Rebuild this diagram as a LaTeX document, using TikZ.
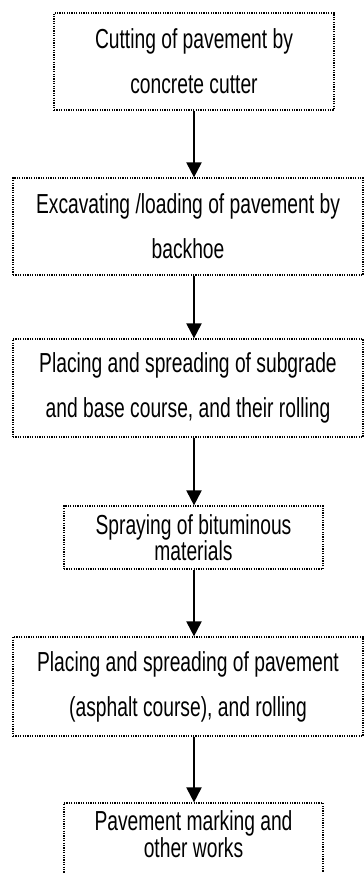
\documentclass[tikz,border=0pt]{standalone}
\usepackage{fontspec}
\setmainfont[FakeStretch=0.7]{Liberation Sans}
\usetikzlibrary{arrows.meta}
\begin{document}
\begin{tikzpicture}[x=1pt,y=-1pt,
  box/.style={draw=black, line width=1.2pt, dash pattern=on 1.2pt off 1.2pt,
    inner sep=0pt, align=center},
  dbl/.style={font=\fontsize{27.5}{45}\selectfont},
  sgl/.style={font=\fontsize{27.5}{25}\selectfont},
  flow/.style={line width=2pt, -{Triangle[width=15pt,length=15pt]}}]
\useasboundingbox (0,0) rectangle (364,873);
\clip (0,0) rectangle (364,873);
\node[box,dbl,minimum width=280pt,minimum height=97pt] (b1) at (194,61.5)
  {Cutting of pavement by\\concrete cutter};
\node[box,dbl,minimum width=350pt,minimum height=97pt] (b2) at (188,226.5)
  {Excavating /loading of pavement by\\backhoe};
\node[box,dbl,minimum width=350pt,minimum height=98pt] (b3) at (188,388)
  {Placing and spreading of subgrade\\and base course, and their rolling};
\node[box,sgl,minimum width=259pt,minimum height=63pt] (b4) at (193.5,537.5)
  {Spraying of bituminous\\materials};
\node[box,dbl,minimum width=350pt,minimum height=99pt] (b5) at (188,686.5)
  {Placing and spreading of pavement\\(asphalt course), and rolling};
\node[box,minimum width=259pt,minimum height=100pt] (b6) at (193.5,853) {};
\node[sgl,align=center,inner sep=0pt,anchor=base] (t6) at (193.5,857)
  {Pavement marking and\\other works};
\draw[flow] (b1.south) -- (b1.south |- b2.north);
\draw[flow] (b2.south -| b1.south) -- (b3.north -| b1.south);
\draw[flow] (b3.south -| b1.south) -- (b4.north -| b1.south);
\draw[flow] (b4.south -| b1.south) -- (b5.north -| b1.south);
\draw[flow] (b5.south -| b1.south) -- (b6.north -| b1.south);
\end{tikzpicture}
\end{document}
